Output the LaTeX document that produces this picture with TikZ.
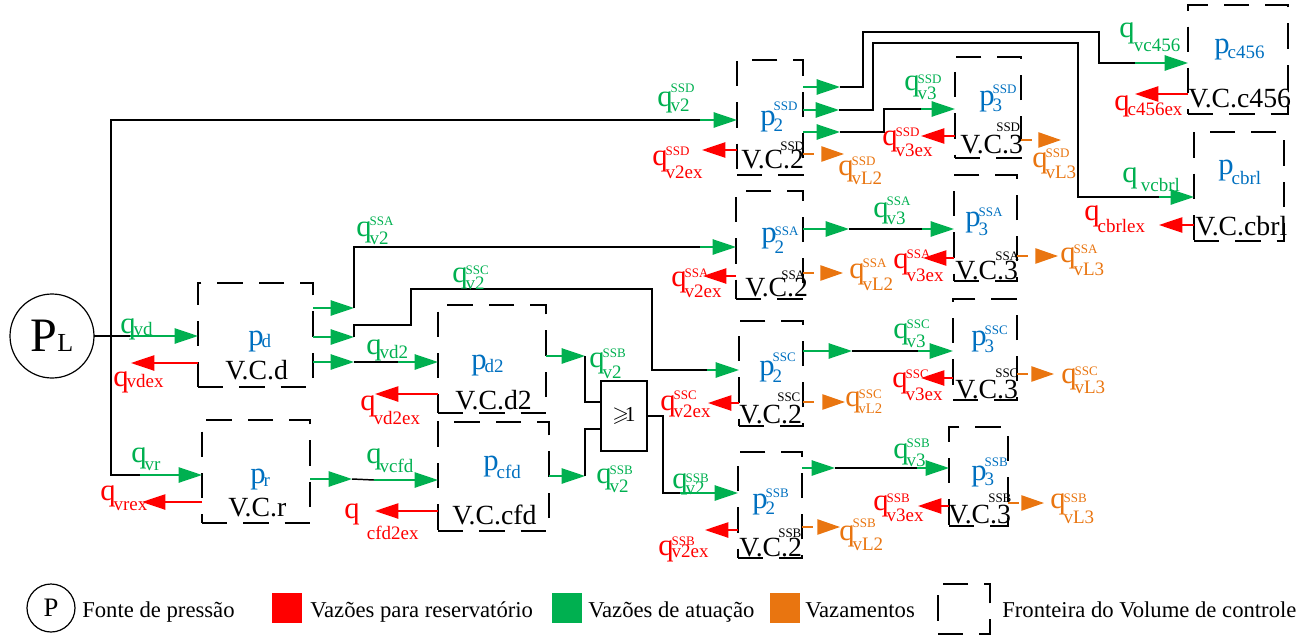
\documentclass[tikz,border=0pt]{standalone}
\usepackage{amsmath}
\usepackage{amssymb}
\usepackage{fontspec}
\setmainfont{Liberation Serif}
\usetikzlibrary{arrows.meta}
\definecolor{verde}{HTML}{00B050}
\definecolor{vermelho}{HTML}{FF0000}
\definecolor{laranja}{HTML}{E97510}
\definecolor{azul}{HTML}{0070C0}
\newdimen\pxu
\pxu=.75pt
\newcommand{\qlab}[5]{#1\hspace{-1.5pt}\rlap{\raisebox{-#4\pxu}{\fontsize{14.25}{15}\selectfont #2}}\raisebox{#5\pxu}{\fontsize{9.75}{10}\selectfont #3}}
\tikzset{
  lab/.style={anchor=base west,inner sep=0pt,font=\fontsize{23}{24}\selectfont},
  qverde/.style={lab,text=verde},
  qverm/.style={lab,text=vermelho},
  qlar/.style={lab,text=laranja},
  pazul/.style={lab,text=azul},
  vcnome/.style={lab,font=\fontsize{20.8}{21}\selectfont},
  vcsup/.style={lab,font=\fontsize{9.75}{10}\selectfont},
  legtxt/.style={lab,font=\fontsize{17}{18}\selectfont},
  legcor/.style={inner sep=0pt,minimum size=22.5pt},
  vc/.style 2 args={draw,line width=1.1pt,inner sep=0pt,outer sep=0pt,dash pattern=on 19pt off 12pt,minimum width=#1*.75pt,minimum height=#2*.75pt},
  fio/.style={line width=1.1pt},
  vazao/.style={draw=verde,line width=1.1pt,-{Triangle[length=17.5pt,width=11.5pt]}},
  retorno/.style={draw=vermelho,line width=1.1pt,-{Triangle[length=17.5pt,width=11.5pt]}},
  fuga/.style={draw=laranja,line width=1.1pt,dash pattern=on 8pt off 40pt,-{Triangle[length=17pt,width=11.5pt]}},
}
\begin{document}
\begin{tikzpicture}[x=.75pt,y=-.75pt]
\useasboundingbox (0,0) rectangle (1306,635);
% volumes de controle
\node[circle,draw,line width=.9pt,inner sep=0pt,outer sep=0pt,minimum size=63pt] (pl) at (52,336) {\fontsize{36}{37}\selectfont P\fontsize{19.5}{20}\selectfont L};
\node[vc={115}{104}] (vcd) at (255.5,335) {};
\node[vc={108}{103}] (vcr) at (256,471.5) {};
\node[vc={108}{108}] (vcdd) at (492,359) {};
\node[vc={111}{109}] (vccfd) at (493.5,476.5) {};
\node[draw,line width=1.1pt,inner sep=0pt,outer sep=0pt,minimum width=34.5pt,minimum height=52.5pt,font=\fontsize{16}{17}\selectfont] (porta) at (624,416) {$\geqslant$\hspace{-3pt}1};
\node[vc={66}{115}] (vcbd) at (770,117.5) {};
\node[vc={67}{108}] (vcba) at (769.5,245) {};
\node[vc={64}{105}] (vcbc) at (771,373.5) {};
\node[vc={64}{106}] (vcbb) at (770,505) {};
\node[vc={66}{101}] (vctd) at (988,107.5) {};
\node[vc={63}{106}] (vcta) at (985.5,228) {};
\node[vc={64}{101}] (vctc) at (985,349.5) {};
\node[vc={59}{99}] (vctb) at (978.5,476.5) {};
\node[vc={100}{109}] (vcq) at (1238,59.5) {};
\node[vc={90}{109}] (vcbrl) at (1239,186.5) {};
% linhas da fonte
\coordinate (nopl) at (111,336);
\coordinate (evd) at (130,336);
\coordinate (evr) at (140,475);
\coordinate (ebd) at (700,120);
\draw[fio] (pl.east) -- (evd);
\draw[fio] (nopl) |- (ebd);
\draw[fio] (nopl) |- (evr);
\draw[vazao] (evd) -- (vcd.west |- evd);
\draw[vazao] (evr) -- (vcr.west |- evr);
\draw[vazao] (ebd) -- (vcbd.west |- ebd);
% saidas de d e r
\coordinate (sda) at (354,308);
\coordinate (sdc) at (354,337);
\coordinate (sdd) at (354,362);
\coordinate (eba) at (700,247);
\coordinate (ebc) at (707,370);
\coordinate (edd) at (398,362);
\coordinate (sr) at (352,479);
\coordinate (ecfd) at (374,480);
\draw[vazao] (vcd.east |- sda) -- (sda);
\draw[vazao] (vcd.east |- sdc) -- (sdc);
\draw[vazao] (vcd.east |- sdd) -- (sdd);
\draw[vazao] (vcr.east |- sr) -- (sr);
\draw[fio] (sda) |- (eba);
\draw[fio] (sdc) -- ++(0,-12) -- ++(57,0) -- ++(0,-36) -- ++(241,0) |- (ebc);
\draw[fio] (sdd) -- (edd);
\draw[fio] (sr) -- (ecfd);
\draw[vazao] (eba) -- (vcba.west |- eba);
\draw[vazao] (ebc) -- (vcbc.west |- ebc);
\draw[vazao] (edd) -- (vcdd.west |- edd);
\draw[vazao] (ecfd) -- (vccfd.west |- ecfd);
% porta logica
\coordinate (sdd2) at (585,356);
\coordinate (scfd) at (585,476);
\coordinate (ebb) at (680,493);
\draw[vazao] (vcdd.east |- sdd2) -- (sdd2);
\draw[vazao] (vccfd.east |- scfd) -- (scfd);
\draw[fio] (sdd2) |- ([yshift=10.5pt]porta.west);
\draw[fio] (scfd) |- ([yshift=-9.75pt]porta.west);
\draw[fio] (porta.east) -- ++(16,0) |- (ebb);
\draw[vazao] (ebb) -- (vcbb.west |- ebb);
% saidas de V.C.2
\coordinate (sq) at (840,87);
\coordinate (sbrl) at (839,110);
\coordinate (std) at (840,132);
\coordinate (eq) at (1135,63);
\coordinate (ebrl) at (1159,197);
\coordinate (etd) at (921,109);
\coordinate (sta) at (849,229);
\coordinate (eta) at (922,229);
\coordinate (stc) at (852,351);
\coordinate (etc) at (918,351);
\coordinate (stb) at (835,468);
\coordinate (etb) at (917,468);
\draw[vazao] (vcbd.east |- sq) -- (sq);
\draw[vazao] (vcbd.east |- sbrl) -- (sbrl);
\draw[vazao] (vcbd.east |- std) -- (std);
\draw[vazao] (vcba.east |- sta) -- (sta);
\draw[vazao] (vcbc.east |- stc) -- (stc);
\draw[vazao] (vcbb.east |- stb) -- (stb);
\draw[fio] (sq) -- ++(23,0) -- ++(0,-55) -- ++(236,0) |- (eq);
\draw[fio] (sbrl) -- ++(34,0) -- ++(0,-67) -- ++(205,0) |- (ebrl);
\draw[fio] (std) -- ++(44,0) |- (etd);
\draw[fio] (sta) -- (eta);
\draw[fio] (stc) -- (etc);
\draw[fio] (stb) -- (etb);
\draw[vazao] (eq) -- (vcq.west |- eq);
\draw[vazao] (ebrl) -- (vcbrl.west |- ebrl);
\draw[vazao] (etd) -- (vctd.west |- etd);
\draw[vazao] (eta) -- (vcta.west |- eta);
\draw[vazao] (etc) -- (vctc.west |- etc);
\draw[vazao] (etb) -- (vctb.west |- etb);
% retornos
\coordinate (rvd) at (131,363);
\coordinate (rvr) at (142,502);
\coordinate (rdd) at (375,394);
\coordinate (rcfd) at (375,511);
\coordinate (rbd) at (702,150);
\coordinate (rba) at (703,276);
\coordinate (rbc) at (708,403);
\coordinate (rbb) at (705,530);
\coordinate (rtd) at (921,136);
\coordinate (rta) at (923,258);
\coordinate (rtc) at (921,378);
\coordinate (rtb) at (918,506);
\coordinate (rq) at (1135,94);
\coordinate (rbrl) at (1159,225);
\draw[retorno] (vcd.west |- rvd) -- (rvd);
\draw[retorno] (vcr.west |- rvr) -- (rvr);
\draw[retorno] (vcdd.west |- rdd) -- (rdd);
\draw[retorno] (vccfd.west |- rcfd) -- (rcfd);
\draw[retorno] (vcbd.west |- rbd) -- (rbd);
\draw[retorno] (vcba.west |- rba) -- (rba);
\draw[retorno] (vcbc.west |- rbc) -- (rbc);
\draw[retorno] (vcbb.west |- rbb) -- (rbb);
\draw[retorno] (vctd.west |- rtd) -- (rtd);
\draw[retorno] (vcta.west |- rta) -- (rta);
\draw[retorno] (vctc.west |- rtc) -- (rtc);
\draw[retorno] (vctb.west |- rtb) -- (rtb);
\draw[retorno] (vcq.west |- rq) -- (rq);
\draw[retorno] (vcbrl.west |- rbrl) -- (rbrl);
% vazamentos
\coordinate (fbd) at (844,154);
\coordinate (fba) at (843,273);
\coordinate (fbc) at (845,402);
\coordinate (fbb) at (840,527);
\coordinate (ftd) at (1061,140);
\coordinate (fta) at (1058,256);
\coordinate (ftc) at (1054,374);
\coordinate (ftb) at (1044,503);
\draw[fuga] (vcbd.east |- fbd) -- (fbd);
\draw[fuga] (vcba.east |- fba) -- (fba);
\draw[fuga] (vcbc.east |- fbc) -- (fbc);
\draw[fuga] (vcbb.east |- fbb) -- (fbb);
\draw[fuga] (vctd.east |- ftd) -- (ftd);
\draw[fuga] (vcta.east |- fta) -- (fta);
\draw[fuga] (vctc.east |- ftc) -- (ftc);
\draw[fuga] (vctb.east |- ftb) -- (ftb);
% pressoes
\node[pazul] (pd) at (248,345) {\qlab{p}{d}{}{2}{0}};
\node[pazul] (pr) at (250,483) {\qlab{p}{r}{}{3}{0}};
\node[pazul] (pdd) at (471,369) {\qlab{p}{d2}{}{3}{0}};
\node[pazul] (pcfd) at (483,470) {\qlab{p}{cfd}{}{8}{0}};
\node[pazul] (pbd) at (760,125) {\qlab{p}{2}{SSD}{6}{15}};
\node[pazul] (pba) at (761,242) {\qlab{p}{2}{SSA}{11}{7}};
\node[pazul] (pbc) at (759,375) {\qlab{p}{2}{SSC}{7}{14}};
\node[pazul] (pbb) at (752,508) {\qlab{p}{2}{SSB}{6}{11}};
\node[pazul] (ptd) at (979,105) {\qlab{p}{3}{SSD}{7}{12}};
\node[pazul] (pta) at (965,226) {\qlab{p}{3}{SSA}{9}{10}};
\node[pazul] (ptc) at (971,345) {\qlab{p}{3}{SSC}{7}{11}};
\node[pazul] (ptb) at (971,480) {\qlab{p}{3}{SSB}{5}{14}};
\node[pazul] (pq) at (1214,54) {\qlab{p}{c456}{}{5}{0}};
\node[pazul] (pbrl) at (1218,174) {\qlab{p}{cbrl}{}{10}{0}};
% nomes dos volumes
\node[vcnome] (nvd) at (225,379) {V.C.d};
\node[vcnome] (nvr) at (228,516) {V.C.r};
\node[vcnome] (nvdd) at (455,409) {V.C.d2};
\node[vcnome] (nvcfd) at (452,524) {V.C.cfd};
\node[vcnome] (nbd) at (741,168) {V.C.2};
\node[vcnome] (nba) at (745,296) {V.C.2};
\node[vcnome] (nbc) at (739,423) {V.C.2};
\node[vcnome] (nbb) at (739,556) {V.C.2};
\node[vcnome] (ntd) at (960,153) {V.C.3};
\node[vcnome] (nta) at (955,279) {V.C.3};
\node[vcnome] (ntc) at (955,398) {V.C.3};
\node[vcnome] (ntb) at (948,523) {V.C.3};
\node[vcnome] (nq) at (1188,108) {V.C.c456};
\node[vcnome] (nbrl) at (1195,235) {V.C.cbrl};
\node[vcsup] (sbd) at (780,150) {SSD};
\node[vcsup] (sba) at (781,279) {SSA};
\node[vcsup] (sbc) at (777,401) {SSC};
\node[vcsup] (sbb) at (778,537) {SSB};
\node[vcsup] (std2) at (996,131) {SSD};
\node[vcsup] (sta2) at (995,260) {SSA};
\node[vcsup] (stc2) at (995,377) {SSC};
\node[vcsup] (stb2) at (988,502) {SSB};
% vazoes de atuacao
\node[qverde] (qvd) at (120,333) {\qlab{q}{vd}{}{2}{0}};
\node[qverde] (qvr) at (131,462) {\qlab{q}{vr}{}{8}{0}};
\node[qverde] (qvdd) at (366,354) {\qlab{q}{vd2}{}{4}{0}};
\node[qverde] (qvcfd) at (366,463) {\qlab{q}{vcfd}{}{9}{0}};
\node[qverde] (qvq) at (1119,38) {\qlab{q}{\hspace{1pt}vc456}{}{14}{0}};
\node[qverde] (qvbrl) at (1122,182) {\qlab{q}{\hspace{4pt}vcbrl}{}{9}{0}};
\node[qverde] (qbd) at (657,107) {\qlab{q}{v2}{SSD}{5}{14}};
\node[qverde] (qba) at (356,236) {\qlab{q}{v2}{SSA}{8}{11}};
\node[qverde] (qbc) at (452,282) {\qlab{q}{v2}{SSC}{7}{8}};
\node[qverde] (qbb) at (589,367) {\qlab{q}{v2}{SSB}{11}{10}};
\node[qverde] (qbe) at (596,483) {\qlab{q}{v2}{SSB}{9}{9}};
\node[qverde] (qbf) at (672,488) {\qlab{q}{v2}{SSB}{6}{6}};
\node[qverde] (qtd) at (904,90) {\qlab{q}{v3}{SSD}{9}{7}};
\node[qverde] (qta) at (873,217) {\qlab{q}{v3}{SSA}{7}{12}};
\node[qverde] (qtc) at (893,338) {\qlab{q}{v3}{SSC}{9}{10}};
\node[qverde] (qtb) at (893,458) {\qlab{q}{v3}{SSB}{8}{11}};
% vazoes para reservatorio
\node[qverm] (qvdex) at (113,386) {\qlab{q}{vdex}{}{1}{0}};
\node[qverm] (qvrex) at (100,500) {\qlab{q}{vrex}{}{10}{0}};
\node[qverm] (qddex) at (360,410) {\qlab{q}{vd2ex}{}{14}{0}};
\node[qverm] (qcfdex) at (344,518) {\qlab{q}{\hspace{7pt}cfd2ex}{}{21}{0}};
\node[qverm] (qqex) at (1114,110) {\qlab{q}{c456ex}{}{5}{0}};
\node[qverm] (qbrlex) at (1084,220) {\qlab{q}{cbrlex}{}{12}{0}};
\node[qverm] (rqbd) at (652,165) {\qlab{q}{v2ex}{SSD}{13}{10}};
\node[qverm] (rqba) at (671,286) {\qlab{q}{v2ex}{SSA}{11}{9}};
\node[qverm] (rqbc) at (660,410) {\qlab{q}{v2ex}{SSC}{7}{11}};
\node[qverm] (rqbb) at (658,555) {\qlab{q}{v2ex}{SSB}{2}{10}};
\node[qverm] (rqtd) at (882,145) {\qlab{q}{v3ex}{SSD}{11}{9}};
\node[qverm] (rqta) at (893,268) {\qlab{q}{v3ex}{SSA}{13}{10}};
\node[qverm] (rqtc) at (892,387) {\qlab{q}{v3ex}{SSC}{13}{9}};
\node[qverm] (rqtb) at (873,510) {\qlab{q}{v3ex}{SSB}{11}{8}};
% vazamentos
\node[qlar] (fqbd) at (838,175) {\qlab{q}{vL2}{SSD}{9}{10}};
\node[qlar] (fqba) at (849,278) {\qlab{q}{vL2}{SSA}{12}{11}};
\node[qlar] (fqbc) at (845,406) {\qlab{q}{\fontsize{11}{12}\selectfont vL2}{SSC}{7}{8}};
\node[qlar] (fqbb) at (839,540) {\qlab{q}{vL2}{SSB}{10}{13}};
\node[qlar] (fqtd) at (1032,167) {\qlab{q}{vL3}{SSD}{11}{10}};
\node[qlar] (fqta) at (1060,262) {\qlab{q}{vL3}{SSA}{13}{9}};
\node[qlar] (fqtc) at (1061,383) {\qlab{q}{vL3}{SSC}{10}{8}};
\node[qlar] (fqtb) at (1050,508) {\qlab{q}{vL3}{SSB}{15}{6}};
% legenda
\node[circle,draw,line width=.9pt,inner sep=0pt,minimum size=36pt,font=\fontsize{20}{21}\selectfont] (legp) at (51,608) {P};
\node[legtxt] (legpt) at (82,617) {Fonte de pressão};
\node[legcor,fill=vermelho] (legr) at (287,608) {};
\node[legtxt] (legrt) at (310,617) {Vazões para reservatório};
\node[legcor,fill=verde] (legv) at (567,608) {};
\node[legtxt] (legvt) at (588,617) {Vazões de atuação};
\node[legcor,fill=laranja] (legl) at (784.5,608) {};
\node[legtxt] (leglt) at (805,617) {Vazamentos};
\node[vc={52}{50}] (legf) at (964,609) {};
\node[legtxt] (legft) at (1002,617) {Fronteira do Volume de controle};
\end{tikzpicture}
\end{document}
